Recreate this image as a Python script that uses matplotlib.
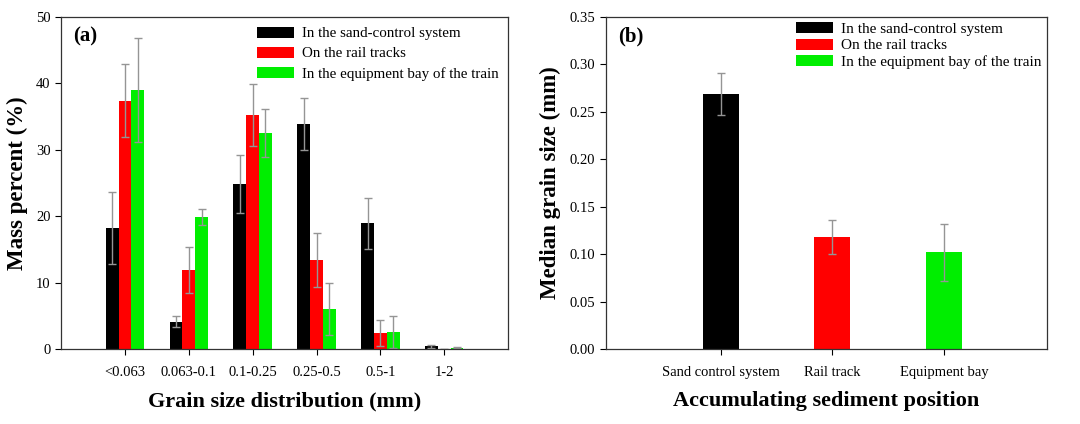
import numpy as np
import matplotlib as mpl
mpl.use('Agg')
from matplotlib import pyplot as plt

plt.rcParams['font.family'] = ['Liberation Serif', 'DejaVu Serif']

#panel (a) data: mass percent per grain size class
size_classes = ['<0.063', '0.063-0.1', '0.1-0.25', '0.25-0.5', '0.5-1', '1-2']
sand_control = [18.2, 4.1, 24.8, 33.9, 18.9, 0.4]
sand_control_err = [5.4, 0.8, 4.4, 3.9, 3.9, 0.2]
rail_tracks = [37.4, 11.9, 35.2, 13.4, 2.4, 0.05]
rail_tracks_err = [5.5, 3.4, 4.7, 4.1, 1.9, 0.0]
equip_bay = [39.0, 19.9, 32.5, 6.0, 2.6, 0.2]
equip_bay_err = [7.8, 1.2, 3.6, 3.9, 2.4, 0.1]

#panel (b) data: median grain size per position
positions = ['Sand control system', 'Rail track', 'Equipment bay']
median_size = [0.269, 0.118, 0.102]
median_err = [0.022, 0.018, 0.030]

series_names = ['In the sand-control system', 'On the rail tracks',
                'In the equipment bay of the train']
colors = ['black', '#ff0000', '#00ee00']
err_kw = dict(ecolor='#959595', elinewidth=1.0, capsize=2.6, capthick=1.0)

fig = plt.figure(figsize=(10.8, 4.24), dpi=100)

#left panel
ax1 = fig.add_axes([0.0565, 0.177, 0.414, 0.783])
x = np.arange(1, len(size_classes) + 1)
w = 0.2
data_a = [(sand_control, sand_control_err), (rail_tracks, rail_tracks_err),
          (equip_bay, equip_bay_err)]
for k, (vals, errs) in enumerate(data_a):
    ax1.bar(x + (k - 1) * w, vals, w, yerr=errs, color=colors[k],
            label=series_names[k], error_kw=err_kw)
ax1.set_xlim(0, 7)
ax1.set_ylim(0, 50)
ax1.set_xticks(x)
ax1.set_xticklabels(size_classes)
ax1.set_yticks(np.arange(0, 51, 10))
ax1.set_xlabel('Grain size distribution (mm)', fontsize=16, fontweight='bold', labelpad=9)
ax1.set_ylabel('Mass percent (%)', fontsize=16.5, fontweight='bold', labelpad=6)
ax1.text(0.028, 0.94, '(a)', transform=ax1.transAxes, fontsize=15,
         fontweight='bold', va='center')
ax1.legend(loc='upper right', bbox_to_anchor=(1.0, 1.0), frameon=False,
           fontsize=10.8, handlelength=2.45, handleheight=0.75,
           labelspacing=0.42, handletextpad=0.5, borderaxespad=0.35,
           borderpad=0.3)

#right panel
ax2 = fig.add_axes([0.561, 0.177, 0.408, 0.783])
xb = np.arange(1, len(positions) + 1)
for k in range(len(positions)):
    ax2.bar(xb[k], median_size[k], 0.32, yerr=median_err[k], color=colors[k],
            label=series_names[k], error_kw=err_kw)
ax2.set_xlim(-0.03, 3.92)
ax2.set_ylim(0, 0.35)
ax2.set_xticks(xb)
ax2.set_xticklabels(positions)
ax2.set_yticks(np.arange(0, 0.351, 0.05))
ax2.yaxis.set_major_formatter(mpl.ticker.FormatStrFormatter('%.2f'))
ax2.set_xlabel('Accumulating sediment position', fontsize=16, fontweight='bold', labelpad=9)
ax2.set_ylabel('Median grain size (mm)', fontsize=16.5, fontweight='bold', labelpad=6)
ax2.text(0.028, 0.94, '(b)', transform=ax2.transAxes, fontsize=15,
         fontweight='bold', va='center')
ax2.legend(loc='upper right', bbox_to_anchor=(1.0, 1.0), frameon=False,
           fontsize=11, handlelength=2.4, handleheight=0.75,
           labelspacing=0.15, handletextpad=0.5, borderaxespad=0.05,
           borderpad=0.3)

for ax in (ax1, ax2):
    ax.tick_params(direction='out', length=4, width=0.8, labelsize=10.5,
                   colors='black', top=False, right=False)
    ax.tick_params(axis='x', pad=8)
    for s in ax.spines.values():
        s.set_linewidth(0.9)
        s.set_color('#333333')

fig.savefig('out.png', dpi=100)
plt.close('all')
